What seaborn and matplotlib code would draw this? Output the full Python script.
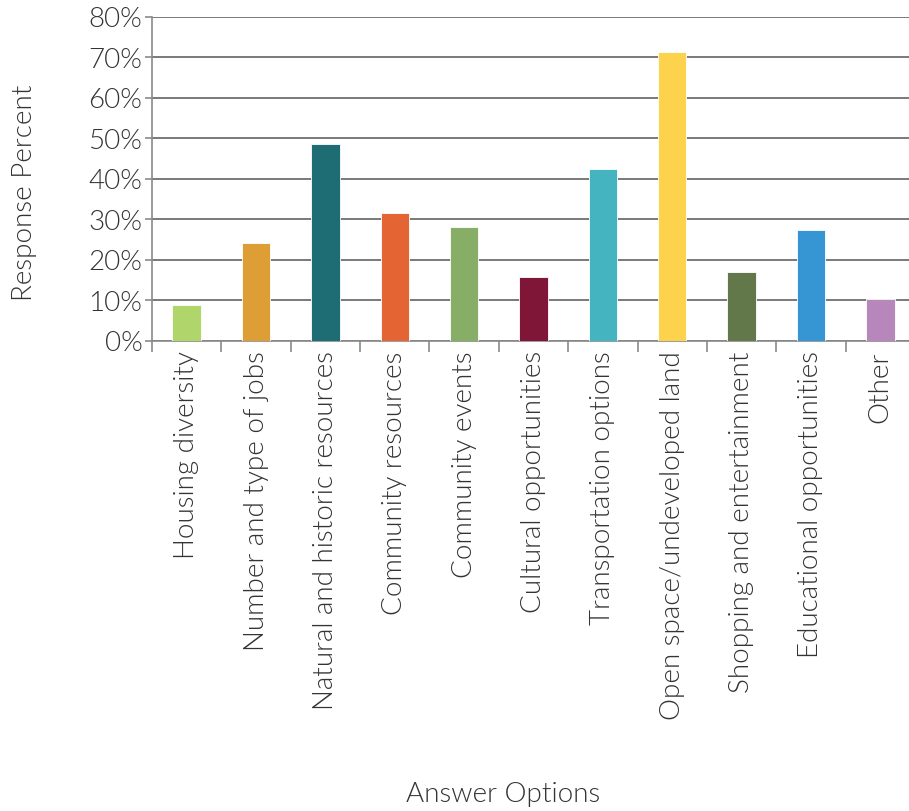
import matplotlib
matplotlib.use("Agg")
import matplotlib.pyplot as plt
import seaborn as sns
import pandas as pd
from matplotlib.ticker import PercentFormatter, FixedLocator

categories = ["Housing diversity", "Number and type of jobs", "Natural and historic resources",
              "Community resources", "Community events", "Cultural opportunities",
              "Transportation options", "Open space/undeveloped land",
              "Shopping and entertainment", "Educational opportunities", "Other"]
values = [8.8, 24.0, 48.6, 31.5, 28.0, 15.7, 42.3, 71.2, 16.9, 27.3, 10.3]
colors = ["#b0d56a", "#dc9e35", "#1f6d74", "#e46433", "#86ae66", "#7f1537",
          "#44b5c0", "#fdd24c", "#62784a", "#3596d3", "#b787bb"]
yticks = [0, 10, 20, 30, 40, 50, 60, 70, 80]

sns.set_style("white")
plt.rcParams['font.family'] = ['Lato', 'DejaVu Sans']
txt_color = "#333333"
fw = 300

W, H = 909, 812
fig = plt.figure(figsize=(W / 100, H / 100), dpi=100)
ax = fig.add_axes([152 / W, (H - 341.5) / H, (915 - 152) / W, (341.5 - 17.5) / H])

df = pd.DataFrame({"cat": categories, "val": values})
sns.barplot(data=df, x="cat", y="val", hue="cat", palette=colors, legend=False, saturation=1,
            width=0.41, ax=ax, edgecolor="white", linewidth=0.6, zorder=3)

ax.set_ylim(0, 80)
ax.set_xlim(-0.5, len(categories) - 0.5)
ax.yaxis.set_major_locator(FixedLocator(yticks))
ax.yaxis.set_major_formatter(PercentFormatter(decimals=0))
ax.grid(axis="y", color="#6e6e6e", linewidth=1.3, zorder=0)
ax.grid(axis="x", visible=False)

for s in ["top", "right"]:
    ax.spines[s].set_visible(False)
for s in ["left", "bottom"]:
    ax.spines[s].set_color("#8a8a8a")
    ax.spines[s].set_linewidth(1.2)

ax.set_xticks(range(len(categories)))
ax.set_xticklabels(categories, rotation=90, fontsize=20, color=txt_color, fontweight=fw)
ax.set_xticks([i - 0.5 for i in range(len(categories) + 1)], minor=True)
ax.tick_params(axis="x", which="major", length=0, pad=7)
ax.tick_params(axis="x", which="minor", length=8, width=1.2, color="#8a8a8a", direction="out", bottom=True)
ax.tick_params(axis="y", which="major", length=5, width=1.2, color="#8a8a8a", direction="out", left=True,
               labelsize=20, labelcolor=txt_color, pad=2)
for lab in ax.get_yticklabels():
    lab.set_fontweight(fw)

ax.set_xlabel("")
ax.set_ylabel("")
fig.text(503 / W, (H - 795) / H, "Answer Options", ha="center", va="center",
         fontsize=20, color=txt_color, fontweight=fw)
fig.text(25 / W, (H - 193) / H, "Response Percent", ha="center", va="center", rotation=90,
         fontsize=20, color=txt_color, fontweight=fw)

fig.savefig("out.png", dpi=100)
